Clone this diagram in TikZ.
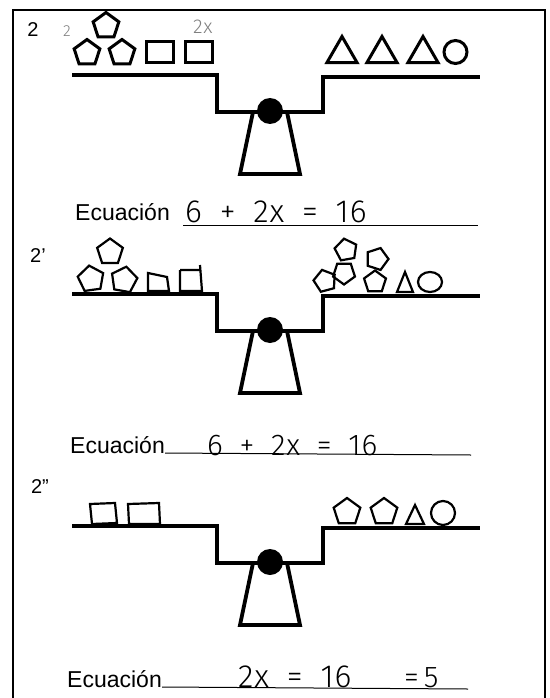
\documentclass[tikz,border=0pt]{standalone}
\usepackage{fontspec}
\setmainfont{Liberation Sans}
\newfontfamily\hand[WordSpace=1.8,LetterSpace=3]{Fira Sans Light}
\usetikzlibrary{shapes.geometric}

\begin{document}
\begin{tikzpicture}[x=1pt,y=-1pt,inner sep=0pt,
  beam/.style={line width=3.8pt},
  pent/.style={draw,regular polygon,regular polygon sides=5,minimum size=27pt,line width=3pt},
  tri/.style={draw,regular polygon,regular polygon sides=3,minimum size=35pt,line width=3pt},
  box/.style={draw,minimum width=27pt,minimum height=21pt,line width=3pt},
  ring/.style={draw,circle,minimum size=23pt,line width=3pt},
  thin/.style={line width=2.2pt},
  num/.style={font=\fontsize{20}{20}\selectfont},
  ecu/.style={anchor=base west,font=\fontsize{23}{23}\selectfont},
  hw/.style={anchor=base west,font=\hand\fontsize{32}{32}\selectfont}]

\useasboundingbox (0,0) rectangle (549,698);
\draw[line width=1.2pt] (13,698) -- (13,10) -- (545,10) -- (545,698);

\node[num] at (33,30) (n_1) {2};
\node[num] at (38,256) (n_2) {2'};
\node[num] at (40,487) (n_3) {2''};

\node[ecu] at (75,220) (e_1) {Ecuación};
\node[ecu] at (70,453) (e_2) {Ecuación};
\node[ecu] at (67,687) (e_3) {Ecuación};
\draw[line width=1pt] (183,225) -- (478,225);
\draw[line width=1pt] (e_2.base east) -- (471,455);
\draw[line width=1pt] (e_3.base east) -- (468,689);

\node[hw] at (185,222) (h_1) {6 + 2x = 16};
\node[hw,font=\hand\fontsize{30}{30}\selectfont] at (207,455) (h_2) {6 + 2x = 16};
\node[hw] at (238,687) (h_3) {2x = 16};
\node[hw,font=\hand\fontsize{30}{30}\selectfont] at (404,687) (h_4) {=\,5};
\node[hw,gray,font=\hand\fontsize{16}{16}\selectfont] at (63,37) (g_1) {2};
\node[hw,gray,font=\hand\fontsize{20}{20}\selectfont] at (193,34) (g_2) {2x};

% seesaws
\foreach \b in {75,294,526}{
\draw[beam] (72,\b) -- (217,\b) -- (217,\b+37) -- (323,\b+37) -- (323,\b+2) -- (480,\b+2);
\draw[beam] (253,\b+37) -- (240,\b+99) -- (300,\b+99) -- (287,\b+37);
\fill (270,\b+36) circle (13);
}

% 2
\node[pent] at (106,26) (p_0) {};
\foreach \x [count=\i] in {87,122}{
\node[pent] at (\x,53) (p_\i) {};
}
\foreach \x [count=\i] in {160,199}{
\node[box] at (\x,52.5) (s_\i) {};
}
\foreach \x [count=\i] in {342,382,423}{
\node[tri] at (\x,54) (t_\i) {};
}
\node[ring] at (455.5,52) (c_1) {};

% 2'
\node[pent,thin] at (110,252) (q_0) {};
\node[pent,thin,rotate=8] at (91,279) (q_1) {};
\node[pent,thin,rotate=-10] at (124,280) (q_2) {};
\draw[thin] (148,273) -- (167,277) -- (169,291) -- (148,291) -- cycle;
\draw[thin] (180,270) -- (200,270) (200,265) -- (202,291) -- (180,291) -- (180,270);
\foreach \x/\y/\r [count=\i] in {346/250/10, 377/259/-18, 344/273/36, 325/281/15, 375/282/0}{
\node[pent,thin,minimum size=23pt,rotate=\r] at (\x,\y) (r_\i) {};
}
\draw[thin] (397,292) -- (405,272) -- (413,292) -- cycle;
\draw[thin] (430,282) ellipse (12 and 10);

% 2''
\draw[thin] (90,504) -- (115,503) -- (117,523) -- (92,524) -- cycle;
\draw[thin] (128,504) -- (159,503) -- (160,524) -- (129,524) -- cycle;
\foreach \x [count=\i] in {347,384}{
\node[pent,thin,minimum size=28pt] at (\x,512) (u_\i) {};
}
\draw[thin] (406,524) -- (415,505) -- (424,524) -- cycle;
\draw[thin] (443,513) circle (12);

\end{tikzpicture}
\end{document}
